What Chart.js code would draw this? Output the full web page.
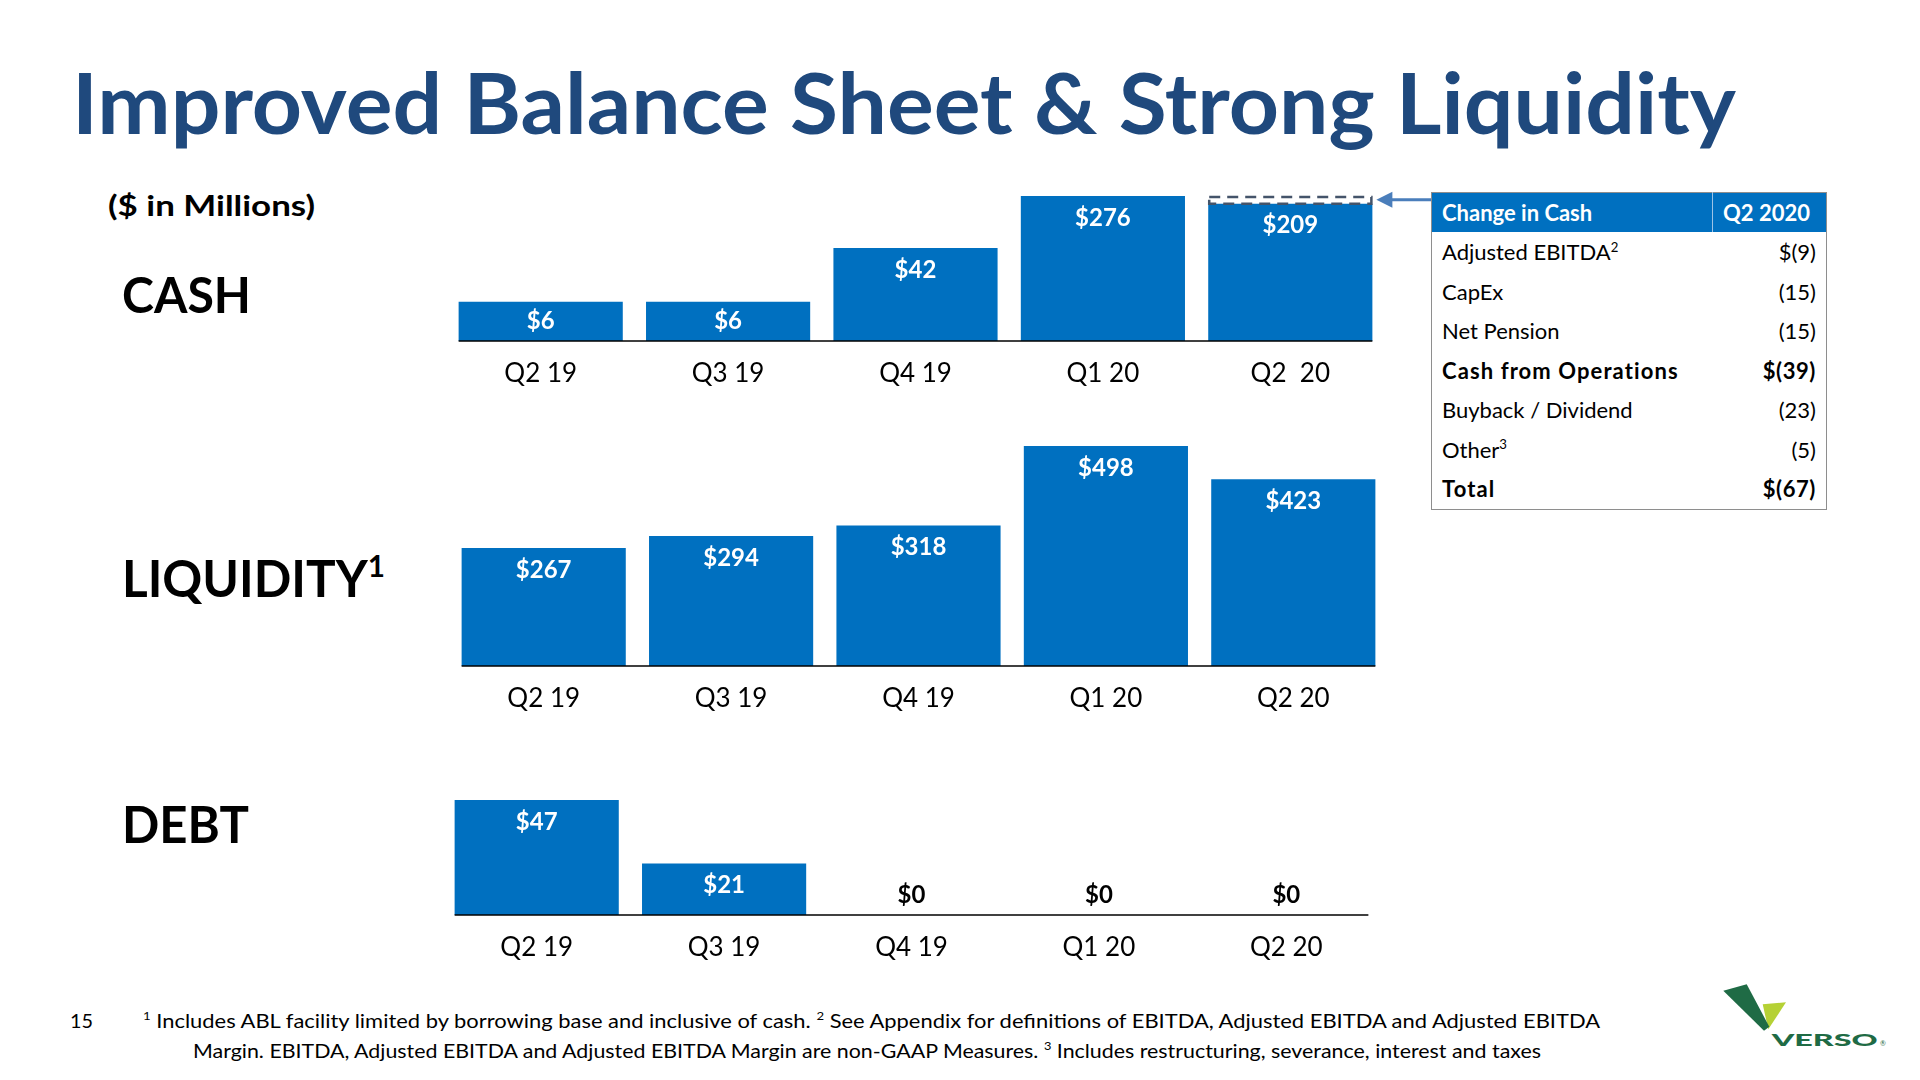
<!DOCTYPE html>
<html><head><meta charset="utf-8">
<script src="https://cdn.jsdelivr.net/npm/chart.js@4.4.1/dist/chart.umd.min.js"></script>
<style>
html,body{margin:0;padding:0;background:#fff}
body{width:1920px;height:1080px;position:relative;overflow:hidden;font-family:Lato,'Open Sans',sans-serif;color:#000}
.t{position:absolute;white-space:nowrap;line-height:1;transform-origin:0 0;}
.sup{font-size:60%;position:relative;top:-0.65em}
canvas{position:absolute}
#title{color:#1F497D;font-weight:700}
#unit,#lCash,#lLiq,#lDebt{font-weight:700}
#tbl{position:absolute;left:1431px;top:192px;width:396px;border-collapse:collapse;font-family:Lato;font-size:22px;border:1.5px solid #8E8E8E;table-layout:fixed}
#tbl th{background:#0070C0;color:#fff;font-weight:700;height:39px;text-align:left;padding:0 0 0 10px;}
#tbl th+th{border-left:1px solid #9DC3E6}
#tbl td{height:39.5px;padding:0 0 0 10px;}
#tbl td.v{text-align:right;padding:0 10px 0 0}
#tbl tr.b td{font-weight:700;letter-spacing:1.1px}
#tbl tr.b td.v{letter-spacing:0.6px}
</style></head>
<body>
<div class="t" id="title">Improved Balance Sheet &amp; Strong Liquidity</div>
<div class="t" id="unit">($ in Millions)</div>
<div class="t" id="lCash">CASH</div>
<div class="t" id="lLiq">LIQUIDITY<span class="sup">1</span></div>
<div class="t" id="lDebt">DEBT</div>
<canvas id="cCash" width="984" height="215" style="left:447px;top:186px"></canvas>
<canvas id="cLiq" width="937" height="290" style="left:450px;top:436px"></canvas>
<canvas id="cDebt" width="937" height="185" style="left:443px;top:790px"></canvas>
<table id="tbl"><colgroup><col style="width:281px"><col></colgroup><thead><tr><th id="h1"></th><th id="h2"></th></tr></thead><tbody id="tb"></tbody></table>
<div class="t" id="pg">15</div>
<div class="t" id="fn1"><span class="sup">1</span> Includes ABL facility limited by borrowing base and inclusive of cash. <span class="sup">2</span> See Appendix for definitions of EBITDA, Adjusted EBITDA and Adjusted EBITDA</div>
<div class="t" id="fn2">Margin. EBITDA, Adjusted EBITDA and Adjusted EBITDA Margin are non-GAAP Measures. <span class="sup">3</span> Includes restructuring, severance, interest and taxes</div>
<svg id="logo" style="position:absolute;left:1716px;top:975px" width="180" height="80" viewBox="0 0 180 80">
<polygon points="46.7,29.3 70,27.3 52.3,54.3" fill="#B5D135"/>
<polygon points="7.3,15.7 30.7,9.3 53.3,51.7 48,55.7" fill="#1F6B45"/>
<text x="55.7" y="71" font-family="Lato" font-weight="900" font-size="17" fill="#1F6B45" textLength="106" lengthAdjust="spacingAndGlyphs">VERSO</text>
<text x="164" y="71" font-family="Lato" font-size="7" fill="#1F6B45">®</text>
</svg>
<script>
// ---- data ----
const cashLabels = ['Q2 19','Q3 19','Q4 19','Q1 20','Q2  20'];
const cashValues = [6, 6, 42, 276, 209];
const liquidityLabels = ['Q2 19','Q3 19','Q4 19','Q1 20','Q2 20'];
const liquidityValues = [267, 294, 318, 498, 423];
const debtLabels = ['Q2 19','Q3 19','Q4 19','Q1 20','Q2 20'];
const debtValues = [47, 21, 0, 0, 0];
const tableHeader = ['Change in Cash', 'Q2 2020'];
const tableRows = ['Adjusted EBITDA','CapEx','Net Pension','Cash from Operations','Buyback / Dividend','Other','Total'];
const tableValues = ['$(9)','(15)','(15)','$(39)','(23)','(5)','$(67)'];
const tableBold = [false,false,false,true,false,false,true];
const tableSup = ['2','','','','','3',''];

// ---- table ----
document.getElementById('h1').textContent = tableHeader[0];
document.getElementById('h2').textContent = tableHeader[1];
const tb = document.getElementById('tb');
tableRows.forEach((r,i)=>{
  const tr = document.createElement('tr');
  if (tableBold[i]) tr.className = 'b';
  const a = document.createElement('td'); a.textContent = r;
  if (tableSup[i]) { const s = document.createElement('span'); s.className='sup'; s.textContent = tableSup[i]; a.appendChild(s); }
  const b = document.createElement('td'); b.className='v'; b.textContent = tableValues[i];
  tr.appendChild(a); tr.appendChild(b); tb.appendChild(tr);
});

// ---- text placement ----
function place(id, left, baseline, capH, width){
  const el = document.getElementById(id);
  const size = capH/0.7165;
  el.style.fontSize = size+'px'; el.style.left = left+'px'; el.style.top = '0px';
  const probe = document.createElement('span');
  probe.style.cssText = 'display:inline-block;width:0;height:0;vertical-align:baseline';
  el.appendChild(probe);
  const r = el.getBoundingClientRect(), p = probe.getBoundingClientRect();
  el.removeChild(probe);
  el.style.top = (baseline - (p.top - r.top)) + 'px';
  if (width) el.style.transform = 'scaleX(' + (width / r.width) + ')';
}
place('title', 72, 134, 60, 1664);
place('unit', 108, 216, 21, 207);
place('lCash', 122, 313, 36, 129);
place('lLiq', 122, 597, 37, 263);
place('lDebt', 122, 843, 37, 127);
place('pg', 70, 1028, 14, 23);
place('fn1', 143, 1028, 14, 1457);
place('fn2', 193, 1058, 14, 1348);

// ---- charts ----
const BLUE = '#0070C0';
const baseline = {
  id:'baseline',
  afterDatasetsDraw(chart){
    const els = chart.getDatasetMeta(0).data;
    if (!els.length) return;
    const first = els[0], last = els[els.length-1], ctx = chart.ctx;
    const y = chart.chartArea.bottom;
    ctx.save(); ctx.strokeStyle = '#000'; ctx.lineWidth = 1.5;
    ctx.beginPath(); ctx.moveTo(first.x - first.width/2, y); ctx.lineTo(last.x + last.width/2, y); ctx.stroke();
    ctx.restore();
  }
};
const valueLabels = {
  id:'valueLabels',
  afterDatasetsDraw(chart){
    const ctx = chart.ctx, meta = chart.getDatasetMeta(0), data = chart.data.datasets[0].data;
    ctx.save();
    ctx.font = 'bold 24px Lato'; ctx.textAlign = 'center'; ctx.textBaseline = 'middle';
    meta.data.forEach((bar,i)=>{
      const v = data[i], txt = '$' + v;
      const h = bar.base - bar.y;
      if (v === 0 || h < 12) { ctx.fillStyle = '#000'; ctx.fillText(txt, bar.x, bar.base - 20); }
      else { ctx.fillStyle = '#fff'; ctx.fillText(txt, bar.x, bar.y + Math.min(22, h/2)); }
    });
    ctx.restore();
  }
};
const changeBox = {
  id:'changeBox',
  afterDatasetsDraw(chart){
    if (chart.data.datasets.length < 2) return;
    const meta = chart.getDatasetMeta(1), ctx = chart.ctx;
    meta.data.forEach((el,i)=>{
      if (!chart.data.datasets[1].data[i]) return;
      const l = el.x - el.width/2, top = Math.min(el.y, el.base), h = Math.abs(el.base - el.y);
      ctx.save();
      ctx.setLineDash([11,7]); ctx.strokeStyle = '#44546A'; ctx.lineWidth = 2.5;
      ctx.strokeRect(l + 1, top + 1, el.width - 2, h - 1);
      const ay = top + h/2, tip = l + el.width + 4, tail = chart.width;
      ctx.setLineDash([]); ctx.strokeStyle = '#4A7EBB'; ctx.lineWidth = 3;
      ctx.beginPath(); ctx.moveTo(tail, ay); ctx.lineTo(tip + 12, ay); ctx.stroke();
      ctx.fillStyle = '#4A7EBB';
      ctx.beginPath(); ctx.moveTo(tip, ay); ctx.lineTo(tip + 16, ay - 8); ctx.lineTo(tip + 16, ay + 8); ctx.closePath(); ctx.fill();
      ctx.restore();
    });
  }
};
function barChart(id, labels, datasets, yOpts, padRight, extraPlugins){
  return new Chart(document.getElementById(id), {
    type:'bar',
    data:{labels, datasets: datasets.map(d => Object.assign({borderWidth:0, grouped:false, barPercentage:0.876, categoryPercentage:1}, d))},
    options:{
      responsive:false, animation:false,
      layout:{padding:{top:10, left:0, right:padRight||0, bottom:0}},
      plugins:{legend:{display:false}, tooltip:{enabled:false}},
      scales:{
        x:{grid:{display:false, drawTicks:false}, border:{display:false},
           ticks:{color:'#000', font:{size:26, family:'Lato'}, padding:17, maxRotation:0, autoSkip:false},
           afterFit(s){ s.height = 60; }},
        y:Object.assign({display:false}, yOpts)
      }
    },
    plugins:[baseline, valueLabels].concat(extraPlugins||[])
  });
}
const n = cashValues.length;
const cashChange = cashValues.map((v,i)=> i === n-1 ? [cashValues[n-1], cashValues[n-2]] : null);
barChart('cCash', cashLabels,
  [{data:cashValues, backgroundColor:BLUE}, {data:cashChange, backgroundColor:'rgba(0,0,0,0)'}],
  {type:'logarithmic', min:1.45, max:Math.max(...cashValues)}, 47, [changeBox]);
barChart('cLiq', liquidityLabels, [{data:liquidityValues, backgroundColor:BLUE}],
  {min:0, max:Math.max(...liquidityValues)});
barChart('cDebt', debtLabels, [{data:debtValues, backgroundColor:BLUE}],
  {min:0, max:Math.max(...debtValues)});
</script>
</body></html>
